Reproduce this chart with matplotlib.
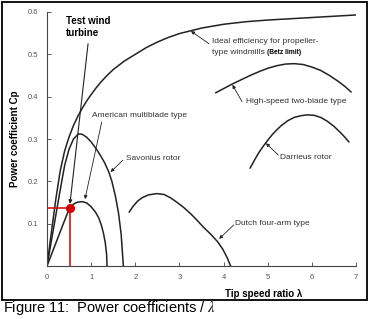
import matplotlib.pyplot as plt
from matplotlib.patches import Rectangle

plt.rcParams['font.family'] = ['Liberation Sans', 'DejaVu Sans']
plt.rcParams['mathtext.fontset'] = 'stix'

# ---- curves (tip speed ratio, Cp) ----
ideal_x = [0, 0.1, 0.2, 0.3, 0.4, 0.5, 0.6, 0.7, 0.8, 0.9, 1.0, 1.1, 1.2, 1.35, 1.5, 1.75,
           2.0, 2.25, 2.5, 2.75, 3.0, 3.5, 4.0, 4.5, 5.0, 5.5, 6.0, 6.5, 7.0]
ideal_y = [0, 0.08, 0.158, 0.225, 0.272, 0.305, 0.332, 0.354, 0.373, 0.39, 0.405, 0.419, 0.432,
           0.449, 0.464, 0.484, 0.50, 0.516, 0.529, 0.540, 0.549, 0.562, 0.571, 0.577, 0.581,
           0.584, 0.587, 0.59, 0.593]

multi_x = [0, 0.1, 0.2, 0.3, 0.4, 0.5, 0.6, 0.71, 0.8, 0.9, 1.0, 1.1, 1.2, 1.3, 1.4, 1.47,
           1.55, 1.62, 1.68, 1.73]
multi_y = [0, 0.06, 0.12, 0.18, 0.238, 0.276, 0.300, 0.312, 0.311, 0.304, 0.293, 0.279, 0.263,
           0.245, 0.222, 0.20, 0.165, 0.125, 0.075, 0.0]

savon_x = [0, 0.1, 0.2, 0.3, 0.4, 0.5, 0.55, 0.6, 0.65, 0.7, 0.8, 0.9, 1.0, 1.1, 1.17, 1.23,
           1.28, 1.32, 1.35, 1.36]
savon_y = [0, 0.027, 0.054, 0.081, 0.108, 0.134, 0.141, 0.146, 0.149, 0.151, 0.152, 0.149, 0.14,
           0.127, 0.114, 0.097, 0.077, 0.055, 0.028, 0.0]

dutch_x = [1.86, 1.95, 2.05, 2.15, 2.3, 2.49, 2.65, 2.8, 2.95, 3.1, 3.25, 3.4, 3.55, 3.7, 3.86,
           3.98, 4.08, 4.16]
dutch_y = [0.127, 0.141, 0.153, 0.161, 0.168, 0.171, 0.169, 0.161, 0.15, 0.138, 0.124, 0.108,
           0.091, 0.076, 0.058, 0.04, 0.02, 0.0]

hs_x = [3.82, 4.0, 4.2, 4.4, 4.6, 4.8, 5.0, 5.2, 5.4, 5.6, 5.8, 6.0, 6.2, 6.4, 6.6, 6.75, 6.89]
hs_y = [0.409, 0.419, 0.43, 0.44, 0.45, 0.459, 0.467, 0.473, 0.477, 0.478, 0.476, 0.470, 0.462,
        0.450, 0.436, 0.424, 0.411]

darr_x = [4.6, 4.7, 4.8, 4.9, 5.0, 5.1, 5.2, 5.3, 5.45, 5.6, 5.75, 5.9, 6.05, 6.2, 6.35, 6.5,
          6.65, 6.75, 6.84]
darr_y = [0.231, 0.25, 0.268, 0.283, 0.297, 0.31, 0.321, 0.331, 0.343, 0.351, 0.355, 0.357,
          0.356, 0.351, 0.342, 0.33, 0.315, 0.304, 0.293]

test_pt = (0.51, 0.137)

x_ticks = [0, 1, 2, 3, 4, 5, 6, 7]
y_ticks = [0.1, 0.2, 0.3, 0.4, 0.5, 0.6]

fig = plt.figure(figsize=(3.69, 3.19), dpi=100)
ax = fig.add_axes([47/369, 53/319, 309/369, 254/319])

ink = '#222222'
for xs, ys in [(ideal_x, ideal_y), (multi_x, multi_y), (savon_x, savon_y),
               (dutch_x, dutch_y), (hs_x, hs_y), (darr_x, darr_y)]:
    ax.plot(xs, ys, color=ink, lw=1.1, solid_capstyle='round', solid_joinstyle='round')

# test turbine marker
red = '#d40000'
ax.plot([0, test_pt[0]], [test_pt[1], test_pt[1]], color=red, lw=1.1)
ax.plot([test_pt[0], test_pt[0]], [0, test_pt[1]], color=red, lw=1.1)
ax.plot(*test_pt, 'o', color=red, ms=5.5, zorder=5)

ax.set_xlim(0, 7)
ax.set_ylim(0, 0.6)
ax.set_xticks(x_ticks)
ax.set_yticks(y_ticks)
ax.set_yticklabels([f"{v:.1f}" for v in y_ticks])
ax.tick_params(direction='in', length=3, width=0.6, labelsize=5.5,
               labelcolor='#555555', color='#444444', pad=6)
for s in ['top', 'right']:
    ax.spines[s].set_visible(False)
for s in ['left', 'bottom']:
    ax.spines[s].set_linewidth(0.8)
    ax.spines[s].set_color('#444444')

ax.set_ylabel('Power coefficient Cp', fontsize=7, fontweight='bold')
ax.yaxis.set_label_coords(-0.087, 0.5)
ax.set_xlabel('Tip speed ratio λ', fontsize=7, fontweight='bold')
ax.xaxis.set_label_coords(0.70, -0.09)

arrow = dict(arrowstyle='-|>', lw=0.6, color=ink, mutation_scale=5, shrinkA=0, shrinkB=0)
tcol = '#333333'

ax.text(0.43, 0.59, 'Test wind\nturbine', fontsize=7, fontweight='bold', va='top', linespacing=1.25)
ax.annotate('', xy=(0.52, 0.147), xytext=(0.93, 0.525), arrowprops=dict(arrow, lw=0.8))

ax.text(3.73, 0.531, 'Ideal efficiency for propeller-', fontsize=6, color=tcol, va='center')
t2 = ax.text(3.73, 0.505, 'type windmills ', fontsize=6, color=tcol, va='center')
ax.annotate('(Betz limit)', xy=(1, 0.5), xycoords=t2, fontsize=4.8, fontweight='bold', va='center')
ax.annotate('', xy=(3.26, 0.555), xytext=(3.67, 0.525), arrowprops=arrow)

ax.text(4.5, 0.389, 'High-speed two-blade type', fontsize=6, color=tcol, va='center')
ax.annotate('', xy=(4.2, 0.428), xytext=(4.42, 0.388), arrowprops=arrow)

ax.text(5.27, 0.257, 'Darrieus rotor', fontsize=6, color=tcol, va='center')
ax.annotate('', xy=(4.96, 0.29), xytext=(5.24, 0.262), arrowprops=arrow)

ax.text(1.02, 0.356, 'American multiblade type', fontsize=6, color=tcol, va='center')
ax.annotate('', xy=(0.86, 0.158), xytext=(1.24, 0.34), arrowprops=arrow)

ax.text(1.8, 0.255, 'Savonius rotor', fontsize=6, color=tcol, va='center')
ax.annotate('', xy=(1.44, 0.222), xytext=(1.72, 0.25), arrowprops=arrow)

ax.text(4.27, 0.101, 'Dutch four-arm type', fontsize=6, color=tcol, va='center')
ax.annotate('', xy=(3.9, 0.064), xytext=(4.23, 0.097), arrowprops=arrow)

# frame around the figure and caption
fig.patches.append(Rectangle((2/369, 19/319), 365/369, 298/319, transform=fig.transFigure,
                             fill=False, lw=1.3, edgecolor='black'))
fig.text(3/369, 1 - 308/319, 'Figure 11:  Power coefficients / $\\lambda$', fontsize=10.5, va='center')

fig.savefig('out.png', dpi=100)
